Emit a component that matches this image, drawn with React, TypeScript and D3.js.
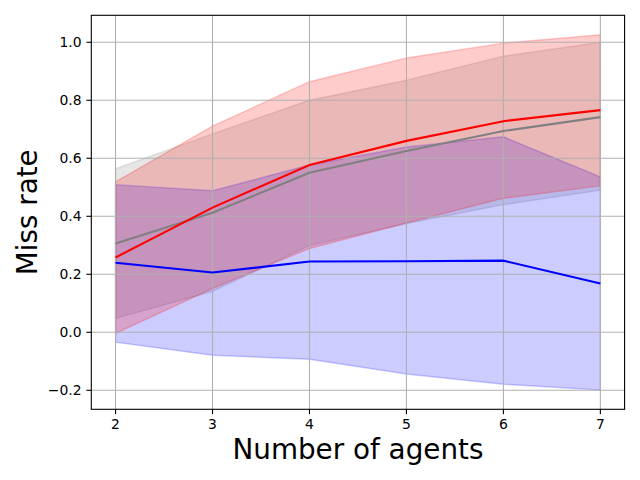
import * as d3 from "d3";

// number of agents
const agents = [2, 3, 4, 5, 6, 7];

// mean miss rate per method
const redMean = [0.258, 0.43, 0.577, 0.66, 0.728, 0.766];
const grayMean = [0.306, 0.412, 0.55, 0.625, 0.694, 0.742];
const blueMean = [0.24, 0.206, 0.244, 0.245, 0.247, 0.168];

// shaded bands (upper / lower)
const redUpper = [0.519, 0.711, 0.864, 0.946, 0.997, 1.026];
const redLower = [-0.004, 0.151, 0.289, 0.377, 0.462, 0.505];
const grayUpper = [0.564, 0.684, 0.8, 0.869, 0.952, 1.0];
const grayLower = [0.048, 0.141, 0.299, 0.375, 0.44, 0.49];
const blueUpper = [0.509, 0.488, 0.577, 0.639, 0.674, 0.536];
const blueLower = [-0.034, -0.079, -0.093, -0.144, -0.179, -0.199];

const xTicks = [2, 3, 4, 5, 6, 7];
const yTicks = [-0.2, 0, 0.2, 0.4, 0.6, 0.8, 1.0];

const W = 640;
const H = 480;
const left = 91.3;
const right = 624.6;
const top = 15.3;
const bottom = 409.3;
const font = "DejaVu Sans, sans-serif";

const series = [
  { color: "gray", mean: grayMean, upper: grayUpper, lower: grayLower },
  { color: "blue", mean: blueMean, upper: blueUpper, lower: blueLower },
  { color: "red", mean: redMean, upper: redUpper, lower: redLower },
];

const App = () => {
  const x = d3.scaleLinear().domain([1.75, 7.25]).range([left, right]);
  const y = d3.scaleLinear().domain([-0.2655, 1.093]).range([bottom, top]);

  const bandPath = (upper: number[], lower: number[]) => {
    const a = d3
      .area<number>()
      .x((_, i) => x(agents[i]))
      .y0((_, i) => y(lower[i]))
      .y1((d) => y(d));
    return a(upper) || "";
  };

  const line = d3
    .line<number>()
    .x((_, i) => x(agents[i]))
    .y((d) => y(d));

  const fmt = (v: number) => d3.format(".1f")(v).replace("-", "\u2212");

  return (
    <svg
      width={W}
      height={H}
      style={{ position: "absolute", left: 0, top: 0, background: "white" }}
      fontFamily={font}
    >
      <rect x={0} y={0} width={W} height={H} fill="white" />
      {series.map((s) => (
        <path
          key={"band-" + s.color}
          d={bandPath(s.upper, s.lower)}
          fill={s.color}
          fillOpacity={0.2}
          stroke={s.color}
          strokeOpacity={0.2}
          strokeWidth={1.4}
        />
      ))}
      {/* grid */}
      {xTicks.map((t) => (
        <line key={"gx" + t} x1={x(t)} x2={x(t)} y1={top} y2={bottom} stroke="#b0b0b0" strokeWidth={1.1} />
      ))}
      {yTicks.map((t) => (
        <line key={"gy" + t} x1={left} x2={right} y1={y(t)} y2={y(t)} stroke="#b0b0b0" strokeWidth={1.1} />
      ))}
      {series.map((s) => (
        <path key={"line-" + s.color} d={line(s.mean) || ""} fill="none" stroke={s.color} strokeWidth={2.08} />
      ))}
      {/* frame */}
      <rect x={left} y={top} width={right - left} height={bottom - top} fill="none" stroke="black" strokeWidth={1.1} />
      {xTicks.map((t) => (
        <g key={"tx" + t}>
          <line x1={x(t)} x2={x(t)} y1={bottom} y2={bottom + 4.9} stroke="black" strokeWidth={1.1} />
          <text x={x(t)} y={429.3} fontSize={13.9} textAnchor="middle">
            {t}
          </text>
        </g>
      ))}
      {yTicks.map((t) => (
        <g key={"ty" + t}>
          <line x1={left - 4.9} x2={left} y1={y(t)} y2={y(t)} stroke="black" strokeWidth={1.1} />
          <text x={81.5} y={y(t) + 5.05} fontSize={13.9} textAnchor="end">
            {fmt(t)}
          </text>
        </g>
      ))}
      <text x={(left + right) / 2} y={459.3} fontSize={27.8} textAnchor="middle">
        Number of agents
      </text>
      <text
        transform={`translate(36.7,${(top + bottom) / 2}) rotate(-90)`}
        fontSize={27.8}
        textAnchor="middle"
      >
        Miss rate
      </text>
    </svg>
  );
};

export default App;
